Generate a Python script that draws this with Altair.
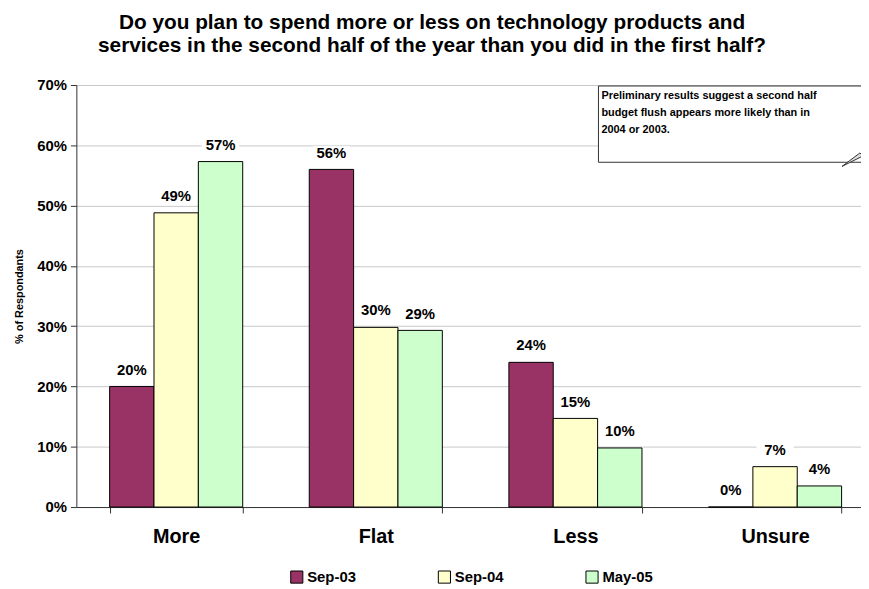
import altair as alt
import pandas as pd

categories = ["More", "Flat", "Less", "Unsure"]
series = ["Sep-03", "Sep-04", "May-05"]
colors = ["#993366", "#FFFFCC", "#CCFFCC"]
sep03 = [20.0, 56.0, 24.0, 0.0]
sep04 = [48.8, 29.8, 14.7, 6.7]
may05 = [57.3, 29.3, 9.8, 3.5]
y_ticks = [0, 10, 20, 30, 40, 50, 60, 70]
title_lines = ["Do you plan to spend more or less on technology products and",
               "services in the second half of the year than you did in the first half?"]
note_lines = ["Preliminary results suggest a second half",
              "budget flush appears more likely than in",
              "2004 or 2003."]

rows = []
for s, vals in zip(series, [sep03, sep04, may05]):
    for c, v in zip(categories, vals):
        rows.append({"category": c, "series": s, "value": v, "label": f"{round(v)}%"})
df = pd.DataFrame(rows)

W, H = 792, 426
XR = 806
PAD_L, PAD_T = 69, 75
PAD_B = 581 - PAD_T - H
FONT = "Liberation Sans"

x = alt.X("category:N", sort=categories, title=None,
          scale=alt.Scale(paddingInner=1/3, paddingOuter=1/6, range=[0, XR]),
          axis=alt.Axis(labelFontSize=20, labelFontWeight="bold", labelColor="black",
                        labelPadding=14, tickBand="extent", tickSize=6, tickColor="#333333",
                        domainColor="#333333", labelAngle=0, grid=False))
xo = alt.XOffset("series:N", sort=series)
y = alt.Y("value:Q", title="% of Respondants",
          scale=alt.Scale(domain=[0, 70], nice=False),
          axis=alt.Axis(values=y_ticks, labelExpr="datum.value + '%'", labelFontSize=15,
                        labelFontWeight="bold", labelColor="black", tickSize=6,
                        tickColor="#333333", domainColor="#333333", gridColor="#c8c8c8",
                        titleFontSize=11, titleFontWeight="bold", titleColor="black",
                        titlePadding=12, labelPadding=4))
color = alt.Color("series:N", sort=series,
                  scale=alt.Scale(domain=series, range=colors),
                  legend=alt.Legend(title=None, orient="none", legendX=215, legendY=489,
                                    direction="horizontal",
                                    symbolType="square", symbolSize=150,
                                    symbolStrokeColor="black", symbolStrokeWidth=1,
                                    labelFontSize=15, labelFontWeight="bold",
                                    labelColor="black", columnPadding=80,
                                    labelOffset=3))

base = alt.Chart(df)
bars = base.mark_bar(stroke="black", strokeWidth=1, opacity=1).encode(
    x=x, xOffset=xo, y=y, color=color)
boxes = base.mark_point(shape="M-1,-0.4H1V0.4H-1Z", filled=True, color="white",
                        opacity=1, size=1400, yOffset=-16).encode(
    x=alt.X("category:N", sort=categories), xOffset=xo, y="value:Q")
labels = base.mark_text(dy=-9, baseline="bottom", fontSize=15, fontWeight="bold",
                        color="black", font=FONT).encode(
    x=alt.X("category:N", sort=categories), xOffset=xo, y="value:Q", text="label:N")

one = pd.DataFrame({"a": [0]})
note_box = alt.Chart(one).mark_rect(
    fill="white", stroke="#333333", strokeWidth=1).encode(
    x=alt.value(527), x2=alt.value(W + 20), y=alt.value(1), y2=alt.value(78))
note_fold = alt.Chart(one).mark_point(
    shape="M-1,1 L0.6,-0.2 L1,0 Z", filled=True, fill="#dddddd", stroke="#333333",
    strokeWidth=1, opacity=1, size=500).encode(x=alt.value(W - 8), y=alt.value(71))
note_texts = [
    alt.Chart(one).mark_text(align="left", baseline="middle", fontSize=11,
                             fontWeight="bold", color="black", font=FONT).encode(
        x=alt.value(530), y=alt.value(11 + 17 * i), text=alt.value(line))
    for i, line in enumerate(note_lines)
]

chart = alt.layer(bars, boxes, labels, note_box, note_fold, *note_texts).properties(
    width=W, height=H,
    autosize=alt.AutoSizeParams(type="none"),
    title=alt.TitleParams(title_lines, fontSize=21, fontWeight="bold", font=FONT,
                          color="black", anchor="middle", frame="group", offset=22,
                          lineHeight=24, dx=-37),
    padding={"left": PAD_L, "top": PAD_T, "right": 0, "bottom": PAD_B},
).configure(font=FONT).configure_view(stroke=None).configure_axis(
    labelFont=FONT, titleFont=FONT).configure_legend(labelFont=FONT)

chart.save("out.html", embed_options={"renderer": "svg", "actions": False})
